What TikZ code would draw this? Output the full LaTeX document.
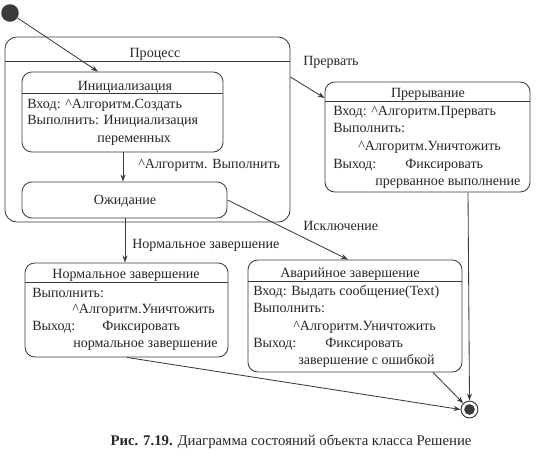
\documentclass[tikz,border=0pt]{standalone}
\usepackage{fontspec}
\setmainfont{Liberation Serif}
\usetikzlibrary{arrows.meta}
\definecolor{inkline}{HTML}{3A3A3A}
\definecolor{inktext}{HTML}{262626}

\begin{document}
\begin{tikzpicture}[
  x=0.025cm, y=-0.025cm,
  state/.style={rectangle, draw=inkline, line width=0.6pt, rounded corners=7pt,
                inner sep=0pt},
  txt/.style={anchor=base west, inner sep=0pt, font=\fontsize{10}{12}\selectfont,
              text=inktext},
  ttl/.style={anchor=base, inner sep=0pt, font=\fontsize{10}{12}\selectfont,
              text=inktext},
  ln/.style={draw=inkline, line width=0.6pt},
  tr/.style={draw=inkline, line width=0.6pt, -{Stealth[length=5pt, width=3.5pt]}},
]
\useasboundingbox (0,0) rectangle (545,462);

% pseudo states
\node[circle, fill=inkline, minimum size=12.5pt, inner sep=0pt] (start) at (10,13) {};
\node[circle, draw=inkline, line width=0.7pt, minimum size=12pt, inner sep=0pt] (final) at (469.5,409.5) {};
\fill[inkline] (final.center) circle (3.8pt);

% composite state
\node[state, rounded corners=8.5pt, minimum width=7.125cm, minimum height=4.625cm] (proc) at (147.5,129.5) {};
\draw[ln] (proc.west |- 0,61) -- (proc.east |- 0,61);
\node[ttl] (proct) at (155,57) {Процесс};

% substates
\node[state, minimum width=5.025cm, minimum height=2.0cm] (init) at (122.5,112) {};
\draw[ln] (init.west |- 0,93) -- (init.east |- 0,93);
\node[ttl] (initt) at (125,90) {Инициализация};
\node[txt] (init1) at (27,108) {Вход: \^{}Алгоритм.Создать};
\node[txt] (init2) at (27,124.5) {Выполнить: Инициализация};
\node[txt] (init3) at (97,142) {переменных};

\node[state, minimum width=5.125cm, minimum height=0.9cm] (wait) at (124.5,200) {};
\node[ttl] (waitt) at (125,204) {Ожидание};

% interrupt
\node[state, minimum width=5.125cm, minimum height=2.75cm] (intr) at (427.5,137) {};
\draw[ln] (intr.west |- 0,101) -- (intr.east |- 0,101);
\node[ttl] (intrt) at (428,97) {Прерывание};
\node[txt] (intr1) at (333,115) {Вход: \^{}Алгоритм.Прервать};
\node[txt] (intr2) at (333,132) {Выполнить:};
\node[txt] (intr3) at (358,150) {\^{}Алгоритм.Уничтожить};
\node[txt] (intr4) at (333,168) {Выход:};
\node[txt] (intr5) at (405,168) {Фиксировать};
\node[txt] (intr6) at (375,185) {прерванное выполнение};

% normal end
\node[state, minimum width=5.075cm, minimum height=2.35cm] (norm) at (126.5,310) {};
\draw[ln] (norm.west |- 0,282) -- (norm.east |- 0,282);
\node[ttl] (normt) at (126,278) {Нормальное завершение};
\node[txt] (norm1) at (32,297) {Выполнить:};
\node[txt] (norm2) at (72,313.5) {\^{}Алгоритм.Уничтожить};
\node[txt] (norm3) at (32,330) {Выход:};
\node[txt] (norm4) at (102,330) {Фиксировать};
\node[txt] (norm5) at (73,347) {нормальное завершение};

% abnormal end
\node[state, minimum width=5.35cm, minimum height=2.8cm] (abort) at (355,316) {};
\draw[ln] (abort.west |- 0,281) -- (abort.east |- 0,281);
\node[ttl] (abortt) at (350,277) {Аварийное завершение};
\node[txt] (abort1) at (253,295) {Вход: Выдать сообщение(Text)};
\node[txt] (abort2) at (253,312) {Выполнить:};
\node[txt] (abort3) at (293,330) {\^{}Алгоритм.Уничтожить};
\node[txt] (abort4) at (253,347) {Выход:};
\node[txt] (abort5) at (325,347) {Фиксировать};
\node[txt] (abort6) at (298,364) {завершение с ошибкой};

% transitions
\draw[tr] (start) -- (init.north -| 98,0);
\draw[tr] (init.south -| 123,0) -- (wait.north -| 123,0);
\node[txt] (lexec) at (138,168) {\^{}Алгоритм. Выполнить};
\draw[tr] (proc.east |- 0,77) -- (intr.west |- 0,98);
\node[txt] (lstop) at (303,65) {Прервать};
\draw[tr] (wait.east) -- (abort.north -| 348,0);
\node[txt] (lexc) at (303,230) {Исключение};
\draw[tr] (wait.south -| 125,0) -- (norm.north -| 125,0);
\node[txt] (lnorm) at (132,248) {Нормальное завершение};
\draw[tr] (norm.south -| 127,0) -- (final.west);
\draw[tr] (abort.south -| 433,0) -- (final.north west);
\draw[tr] (intr.south -| 468,0) -- (final.north);

% caption
\node[ttl, font=\fontsize{10.5}{12}\selectfont] (cap) at (291,445) {\textbf{Рис. 7.19.} Диаграмма состояний объекта класса Решение};
\end{tikzpicture}
\end{document}
